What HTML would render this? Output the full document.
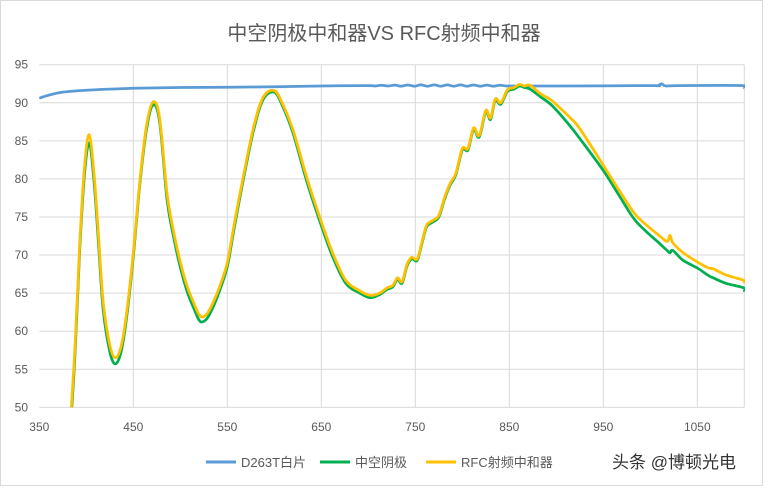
<!DOCTYPE html>
<html><head><meta charset="utf-8">
<style>
html,body{margin:0;padding:0;background:#fff;}
body{width:768px;height:486px;overflow:hidden;font-family:"Liberation Sans","Noto Sans CJK SC",sans-serif;}
</style></head>
<body>
<svg id="chart" width="768" height="486" viewBox="0 0 768 486" xmlns="http://www.w3.org/2000/svg">
<rect x="0.5" y="0.5" width="762" height="485" fill="#fff" stroke="#d9d9d9"/>
<text x="384" y="40" text-anchor="middle" font-size="20" fill="#595959" font-family="Liberation Sans, Noto Sans CJK SC, sans-serif">中空阴极中和器VS RFC射频中和器</text>
<g id="grid"></g>
<g id="axes"></g>
<defs><clipPath id="plotclip"><rect x="39" y="60" width="706" height="347.5"/></clipPath></defs>
<g id="series" clip-path="url(#plotclip)"></g>
<g font-size="13" fill="#595959">
  <g><line x1="206" y1="462" x2="236" y2="462" stroke="#5B9BD5" stroke-width="3"/><text x="241" y="467">D263T白片</text></g>
  <g><line x1="320" y1="462" x2="350" y2="462" stroke="#00B050" stroke-width="3"/><text x="355" y="467">中空阴极</text></g>
  <g><line x1="426" y1="462" x2="456" y2="462" stroke="#FFC000" stroke-width="3"/><text x="461" y="467">RFC射频中和器</text></g>
</g>
<text x="612" y="468" font-size="17" fill="#333">头条 @博顿光电</text>
</svg>
<script>
const xTicks = [350,450,550,650,750,850,950,1050];
const yTicks = [50,55,60,65,70,75,80,85,90,95];
const seriesNames = ["D263T白片","中空阴极","RFC射频中和器"];
const blueNm = [350,360,375,400,425,450,500,550,600,650,700,707,714,721,728,735,742,749,756,763,770,777,784,791,798,805,812,819,826,833,840,847,860,900,1000,1008,1012,1016,1030,1099,1100];
const blueVal = [90.6,91.0,91.4,91.65,91.8,91.9,92.0,92.05,92.1,92.2,92.25,92.2,92.3,92.2,92.32,92.18,92.33,92.17,92.35,92.17,92.35,92.17,92.35,92.17,92.35,92.17,92.33,92.18,92.32,92.18,92.3,92.2,92.2,92.2,92.25,92.25,92.5,92.22,92.25,92.25,91.9];
const nm = [383,388,393,398,403,408,413,418,425,431,437,443,450,457,464,471,478,486,493,500,507,514,521,528,535,542,550,557,567,578,588,600,609,620,634,648,662,676,691,702,712,720,726,731,736,741,746,752,757,762,768,775,781,787,793,800,806,812,818,825,830,835,841,848,855,861,866,872,883,894,904,915,925,950,968,985,1010,1018,1021,1024,1035,1050,1062,1067,1080,1099,1100];
const greenVal = [47,57,70.7,80.5,84.7,80,71.5,62.8,57.3,55.7,57.3,61.9,69.8,79.4,86.5,89.7,87.5,77.2,72.3,68.4,65.3,63.1,61.3,61.6,63.2,65.4,68.5,73.3,79.9,86.4,90.4,91.4,89.5,86,79.9,74.6,69.8,66.3,65.0,64.4,64.8,65.5,65.8,66.8,66.3,68.5,69.5,69.3,71.5,73.7,74.3,75.0,77.3,79.2,80.5,83.8,83.8,86.5,85.5,88.8,87.8,90.3,89.8,91.5,91.8,92.2,92.0,91.8,90.8,89.8,88.5,86.9,85.3,81.1,77.6,74.4,71.5,70.6,70.3,70.6,69.3,68.3,67.3,67.0,66.3,65.7,65.2];
const yellowVal = [48,58,71.5,81.5,85.8,81,72.5,63.8,58.2,56.5,58,62.5,70.3,79.8,87,90.1,88,78,73,69.1,66.0,63.8,62.0,62.2,63.8,65.9,69,73.8,80.3,86.8,90.7,91.6,89.8,86.4,80.4,75.1,70.3,66.7,65.3,64.7,65.0,65.7,66.0,67.0,66.5,68.7,69.7,69.5,71.7,73.9,74.5,75.2,77.5,79.4,80.7,84.0,84.0,86.7,85.7,89.0,88.0,90.5,90.0,91.7,92.0,92.4,92.2,92.3,91.2,90.4,89.3,88.0,86.6,81.8,78.3,75.2,72.5,71.8,72.6,71.6,70.3,69.1,68.3,68.2,67.4,66.7,66.3];

const NS="http://www.w3.org/2000/svg";
const X0=39.3, PXNM=0.94, Y95=64.7, PXU=7.614;
function xs(v){return X0+(v-350)*PXNM;}
function ys(v){return Y95+(95-v)*PXU;}
const grid=document.getElementById('grid'), axes=document.getElementById('axes'), ser=document.getElementById('series');
yTicks.forEach(t=>{
  const l=document.createElementNS(NS,'line');
  l.setAttribute('x1',xs(350));l.setAttribute('x2',xs(1100));l.setAttribute('y1',ys(t));l.setAttribute('y2',ys(t));
  l.setAttribute('stroke','#d9d9d9');l.setAttribute('stroke-width','1');
  
  
  grid.appendChild(l);
  const tx=document.createElementNS(NS,'text');
  tx.setAttribute('x',28);tx.setAttribute('y',ys(t)+4);tx.setAttribute('text-anchor','end');
  tx.setAttribute('font-size','12');tx.setAttribute('fill','#595959');tx.textContent=t;
  
  
  axes.appendChild(tx);
});
xTicks.forEach((t,i)=>{
  if(i>0){
  const l=document.createElementNS(NS,'line');
  l.setAttribute('x1',xs(t));l.setAttribute('x2',xs(t));l.setAttribute('y1',ys(95));l.setAttribute('y2',ys(50));
  l.setAttribute('stroke','#d9d9d9');l.setAttribute('stroke-width','1');
  
  
  grid.appendChild(l);}
  const tx=document.createElementNS(NS,'text');
  tx.setAttribute('x',xs(t));tx.setAttribute('y',431);tx.setAttribute('text-anchor','middle');
  tx.setAttribute('font-size','12');tx.setAttribute('fill','#595959');tx.textContent=t;
  
  
  axes.appendChild(tx);
});
const rb=document.createElementNS(NS,'line');
rb.setAttribute('x1',xs(1100));rb.setAttribute('x2',xs(1100));rb.setAttribute('y1',ys(95));rb.setAttribute('y2',ys(50));
rb.setAttribute('stroke','#d9d9d9');


grid.appendChild(rb);
function smoothPath(pts){
  let d='M'+pts[0][0].toFixed(1)+','+pts[0][1].toFixed(1);
  for(let i=0;i<pts.length-1;i++){
    const p0=pts[Math.max(0,i-1)],p1=pts[i],p2=pts[i+1],p3=pts[Math.min(pts.length-1,i+2)];
    const t=1/6;
    const c1x=p1[0]+(p2[0]-p0[0])*t,c1y=p1[1]+(p2[1]-p0[1])*t;
    const c2x=p2[0]-(p3[0]-p1[0])*t,c2y=p2[1]-(p3[1]-p1[1])*t;
    d+='C'+c1x.toFixed(1)+','+c1y.toFixed(1)+' '+c2x.toFixed(1)+','+c2y.toFixed(1)+' '+p2[0].toFixed(1)+','+p2[1].toFixed(1);
  }
  return d;
}
function draw(xa,ya,color,name){
  const p=document.createElementNS(NS,'path');
  p.setAttribute('d',smoothPath(xa.map((x,i)=>[xs(x),ys(ya[i])])));
  p.setAttribute('fill','none');p.setAttribute('stroke',color);p.setAttribute('stroke-width','2.75');p.setAttribute('stroke-linejoin','round');
  
  
  ser.appendChild(p);
}
draw(blueNm,blueVal,'#5B9BD5','series-d263t-line');
draw(nm,greenVal,'#00B050','series-hollow-cathode-line');
draw(nm,yellowVal,'#FFC000','series-rfc-line');
</script>
</body></html>
